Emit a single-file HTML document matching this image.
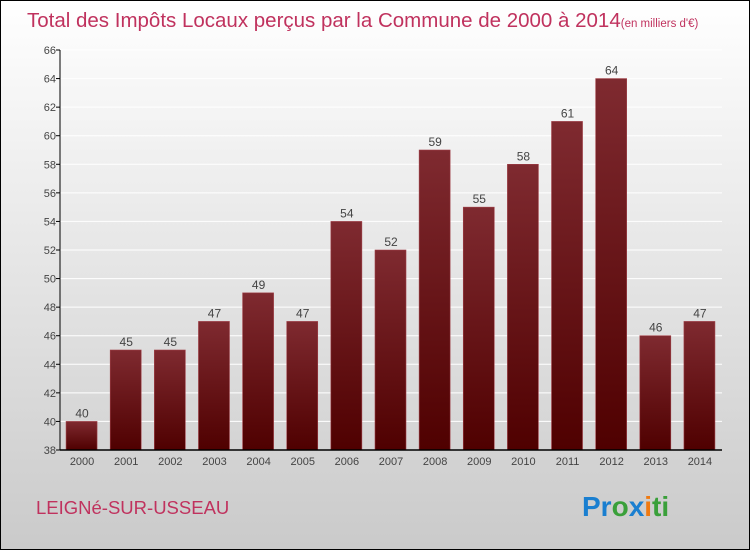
<!DOCTYPE html>
<html><head><meta charset="utf-8"><style>
body{margin:0}
svg{display:block;font-family:"Liberation Sans",sans-serif}
</style></head><body>
<svg id="c" width="750" height="550" xmlns="http://www.w3.org/2000/svg">
<defs>
<linearGradient id="bg" x1="0" y1="0" x2="0" y2="1"><stop offset="0" stop-color="#ffffff"/><stop offset="1" stop-color="#cacaca"/></linearGradient>
<linearGradient id="bar" x1="0" y1="0" x2="0" y2="1"><stop offset="0" stop-color="#7f2a30"/><stop offset="1" stop-color="#4f0000"/></linearGradient>
</defs>
<rect x="0.5" y="0.5" width="749" height="549" fill="url(#bg)" stroke="#000"/>
<text x="27" y="27" font-size="20.5" fill="#c0325e">Total des Impôts Locaux perçus par la Commune de 2000 à 2014<tspan font-size="11.5">(en milliers d'€)</tspan></text>
<g id="grid"></g><g id="bars"></g><g id="axes"></g>
<text x="36" y="514" font-size="18.5" fill="#c0325e">LEIGNé-SUR-USSEAU</text>
<text x="582" y="516" font-size="28" font-weight="bold"><tspan fill="#1a7fd0">Pr</tspan><tspan fill="#3aa03a">o</tspan><tspan fill="#1a7fd0">x</tspan><tspan fill="#f07a10">i</tspan><tspan fill="#3aa03a">ti</tspan></text>
</svg>
<script>
const years=["2000","2001","2002","2003","2004","2005","2006","2007","2008","2009","2010","2011","2012","2013","2014"];
const values=[40,45,45,47,49,47,54,52,59,55,58,61,64,46,47];
const yTicks=[38,40,42,44,46,48,50,52,54,56,58,60,62,64,66];
const NS="http://www.w3.org/2000/svg";
const x0=60,x1=722,yTop=50,yBot=450,vmin=38,vmax=66;
const step=(x1-x0)/years.length;
const Y=v=>yBot-(v-vmin)/(vmax-vmin)*(yBot-yTop);
const X=i=>x0+step*(i+0.5);
function mk(t,a,p){const e=document.createElementNS(NS,t);for(const k in a)e.setAttribute(k,a[k]);document.getElementById(p).appendChild(e);return e;}
yTicks.forEach(v=>{
 const g=mk('line',{x1:x0,x2:x1,y1:Y(v),y2:Y(v),stroke:'#ffffff','stroke-width':1},'grid');
 
 
 const t=mk('line',{x1:x0-4,x2:x0,y1:Y(v),y2:Y(v),stroke:'#000'},'axes');
 
 
 const l=mk('text',{x:x0-4,y:Y(v)+4,'text-anchor':'end','font-size':11,fill:'#444'},'axes');
 l.textContent=v;
 
 
});
values.forEach((v,i)=>{
 const b=mk('rect',{x:X(i)-16,y:Y(v),width:31,height:yBot-Y(v),fill:'url(#bar)',stroke:'#a04048','stroke-width':0.6},'bars');
 
 
 const t=mk('text',{x:X(i),y:Y(v)-4,'text-anchor':'middle','font-size':12,fill:'#444'},'bars');
 t.textContent=v;
 
 
 const xl=mk('text',{x:X(i),y:yBot+15,'text-anchor':'middle','font-size':11,fill:'#444'},'axes');
 xl.textContent=years[i];
 
 
});
const ya=mk('line',{x1:x0,x2:x0,y1:yTop,y2:yBot,stroke:'#000'},'axes');


const xa=mk('line',{x1:x0,x2:x1,y1:yBot,y2:yBot,stroke:'#000','stroke-width':1.5},'axes');


</script>
</body></html>
